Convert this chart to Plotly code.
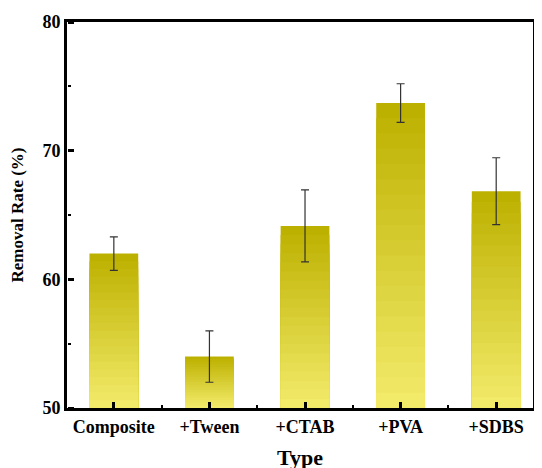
import plotly.graph_objects as go

categories = ["Composite", "+Tween", "+CTAB", "+PVA", "+SDBS"]
removal_rate = [62.0, 54.0, 64.15, 73.7, 66.85]
error = [1.3, 2.0, 2.8, 1.5, 2.6]
y_ticks = [50, 60, 70, 80]
y_minor_ticks = [55, 65, 75]

BASE = 50
N = 20
top_rgb = (189, 177, 0)
bot_rgb = (242, 234, 105)
x_range = [-0.49, 4.385]
y_range = [50, 80]

fig = go.Figure()
for k in range(N):
    frac = 1 - k / N
    t = k / (N - 1)
    c = tuple(round(top_rgb[i] + (bot_rgb[i] - top_rgb[i]) * t) for i in range(3))
    fig.add_trace(go.Bar(
        x=categories,
        y=[BASE + (v - BASE) * frac for v in removal_rate],
        width=0.51,
        marker_color="rgb(%d,%d,%d)" % c,
        marker_line_width=0,
        showlegend=False,
    ))

fig.add_trace(go.Bar(
    x=categories,
    y=removal_rate,
    width=0.51,
    marker_color="rgba(0,0,0,0)",
    marker_line_width=0,
    error_y=dict(type="data", array=error, color="#333333", thickness=1.2, width=4),
    showlegend=False,
))

# invisible helper trace so the tick-only overlay axes are drawn
fig.add_trace(go.Scatter(
    x=list(range(len(categories))), y=removal_rate,
    xaxis="x2", yaxis="y2", mode="markers",
    marker=dict(opacity=0, size=1), showlegend=False, hoverinfo="skip",
))

font_family = "Liberation Serif"
fig.update_layout(
    barmode="overlay",
    width=542, height=468,
    margin=dict(l=59, r=17, t=14, b=68),
    plot_bgcolor="white",
    font=dict(family=font_family, size=18, color="black"),
    xaxis=dict(
        range=x_range,
        tickvals=categories,
        ticktext=["<b>%s</b>" % c for c in categories],
        showline=True, linecolor="black", linewidth=3, mirror=True,
        ticks="", showgrid=False, zeroline=False, automargin=False,
        title=dict(text="<b>Type</b>"),
    ),
    yaxis=dict(
        range=y_range,
        tickvals=y_ticks,
        ticktext=["<b>%d</b>" % v for v in y_ticks],
        showline=True, linecolor="black", linewidth=3, mirror=True,
        ticks="", showgrid=False, zeroline=False, automargin=False,
        title=dict(text="<b>Removal Rate (%)</b>", font=dict(size=17)),
    ),
    xaxis2=dict(
        overlaying="x", side="top", anchor="free", position=0,
        range=x_range, tickvals=list(range(len(categories))),
        ticks="outside", ticklen=6, tickwidth=3, tickcolor="black",
        minor=dict(ticks="outside", ticklen=3, tickwidth=2, tickcolor="black", dtick=1, tick0=0.5),
        showticklabels=False, showline=False, showgrid=False, zeroline=False,
    ),
    yaxis2=dict(
        overlaying="y", side="right", anchor="free", position=0,
        range=y_range, tickvals=y_ticks,
        ticks="outside", ticklen=6, tickwidth=3, tickcolor="black",
        minor=dict(ticks="outside", ticklen=3, tickwidth=2, tickcolor="black", tickvals=y_minor_ticks),
        showticklabels=False, showline=False, showgrid=False, zeroline=False,
    ),
)

fig.write_html("out.html")
